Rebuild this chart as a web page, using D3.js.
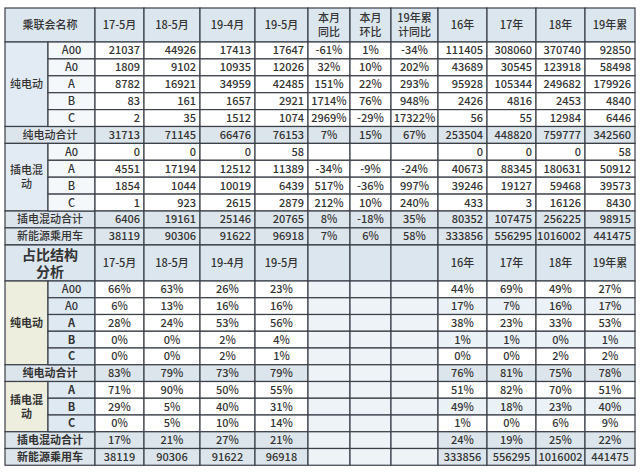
<!doctype html>
<html>
<head>
<meta charset="utf-8">
<style>
  body { margin: 0; background: #fff; }
  text { font-family: "Noto Sans CJK SC", "DejaVu Sans", sans-serif; font-size: 11px; fill: #333; }
</style>
<script src="https://cdnjs.cloudflare.com/ajax/libs/d3/7.8.5/d3.min.js"></script>
</head>
<body>
<script>
// column headers
var headTop = ["17-5月", "18-5月", "19-4月", "19-5月", "本月|同比", "本月|环比", "19年累|计同比", "16年", "17年", "18年", "19年累"];
var headBottom = ["17-5月", "18-5月", "19-4月", "19-5月", "", "", "", "16年", "17年", "18年", "19年累"];

// top section: [group, sub, values...]
var topGroups = ["纯电动", "纯电动", "纯电动", "纯电动", "纯电动", "纯电动合计", "插电混动", "插电混动", "插电混动", "插电混动", "插电混动合计", "新能源乘用车"];
var topSubs = ["A00", "A0", "A", "B", "C", "", "A0", "A", "B", "C", "", ""];
var topValues = [
  ["21037", "44926", "17413", "17647", "-61%", "1%", "-34%", "111405", "308060", "370740", "92850"],
  ["1809", "9102", "10935", "12026", "32%", "10%", "202%", "43689", "30545", "123918", "58498"],
  ["8782", "16921", "34959", "42485", "151%", "22%", "293%", "95928", "105344", "249682", "179926"],
  ["83", "161", "1657", "2921", "1714%", "76%", "948%", "2426", "4816", "2453", "4840"],
  ["2", "35", "1512", "1074", "2969%", "-29%", "17322%", "56", "55", "12984", "6446"],
  ["31713", "71145", "66476", "76153", "7%", "15%", "67%", "253504", "448820", "759777", "342560"],
  ["0", "0", "0", "58", "", "", "", "0", "0", "0", "58"],
  ["4551", "17194", "12512", "11389", "-34%", "-9%", "-24%", "40673", "88345", "180631", "50912"],
  ["1854", "1044", "10019", "6439", "517%", "-36%", "997%", "39246", "19127", "59468", "39573"],
  ["1", "923", "2615", "2879", "212%", "10%", "240%", "433", "3", "16126", "8430"],
  ["6406", "19161", "25146", "20765", "8%", "-18%", "35%", "80352", "107475", "256225", "98915"],
  ["38119", "90306", "91622", "96918", "7%", "6%", "58%", "333856", "556295", "1016002", "441475"]
];

// bottom section: share structure
var botGroups = ["纯电动", "纯电动", "纯电动", "纯电动", "纯电动", "纯电动合计", "插电混动", "插电混动", "插电混动", "插电混动合计", "新能源乘用车"];
var botSubs = ["A00", "A0", "A", "B", "C", "", "A", "B", "C", "", ""];
var botValues = [
  ["66%", "63%", "26%", "23%", "", "", "", "44%", "69%", "49%", "27%"],
  ["6%", "13%", "16%", "16%", "", "", "", "17%", "7%", "16%", "17%"],
  ["28%", "24%", "53%", "56%", "", "", "", "38%", "23%", "33%", "53%"],
  ["0%", "0%", "2%", "4%", "", "", "", "1%", "1%", "0%", "1%"],
  ["0%", "0%", "2%", "1%", "", "", "", "0%", "0%", "2%", "2%"],
  ["83%", "79%", "73%", "79%", "", "", "", "76%", "81%", "75%", "78%"],
  ["71%", "90%", "50%", "55%", "", "", "", "51%", "82%", "70%", "51%"],
  ["29%", "5%", "40%", "31%", "", "", "", "49%", "18%", "23%", "40%"],
  ["0%", "5%", "10%", "14%", "", "", "", "1%", "0%", "6%", "9%"],
  ["17%", "21%", "27%", "21%", "", "", "", "24%", "19%", "25%", "22%"],
  ["38119", "90306", "91622", "96918", "", "", "", "333856", "556295", "1016002", "441475"]
];

var colW = [43, 47, 49, 56, 55, 53, 42, 41, 47, 49, 49, 49, 50];
var colX = [5].concat(Array.from(d3.cumsum(colW), function(d) { return d + 5; }));
var red = "#e0566a", line = "#3a3f48", headBg = "#dce6ef", totBg = "#dde5ec";

var svg = d3.select("body").append("svg").attr("width", 640).attr("height", 473);

function section(y0, headH, rowH, head, groups, subs, values, bottom) {
  var n = values.length;
  var y = d3.scaleLinear().domain([0, n]).range([y0 + headH, y0 + headH + rowH * n]);
  var g = svg.append("g");

  function cell(x0, x1, ya, yb, fill, txt, color, size, align) {
    g.append("rect").attr("x", x0).attr("y", ya).attr("width", x1 - x0).attr("height", yb - ya)
      .attr("fill", fill).attr("stroke", line).attr("stroke-width", 1.2);
    var lines = txt.split("|");
    lines.forEach(function(t, i) {
      g.append("text")
        .attr("x", align === "end" ? x1 - 4 : (x0 + x1) / 2)
        .attr("y", (ya + yb) / 2 + (i - (lines.length - 1) / 2) * (size + 3) + size * 0.36)
        .attr("text-anchor", align || "middle")
        .style("font-size", size + "px").style("font-weight", bottom && !txt.match(/\d/) ? 600 : 500)
        .attr("fill", color).text(t);
    });
  }

  // header
  if (bottom) cell(colX[0], colX[2], y0, y0 + headH, headBg, "占比结构|分析", red, 14);
  else cell(colX[0], colX[2], y0, y0 + headH, headBg, "乘联会名称", "#333", 11);
  head.forEach(function(h, i) {
    var c = (bottom && i === 3) ? red : "#333";
    cell(colX[i + 2], colX[i + 3], y0, y0 + headH, headBg, h, c, 11);
  });

  // group spans
  var spans = [];
  groups.forEach(function(gname, i) {
    var last = spans[spans.length - 1];
    if (last && last.name === gname && subs[i]) last.end = i + 1;
    else spans.push({ name: gname, start: i, end: i + 1, total: !subs[i] });
  });
  spans.forEach(function(s) {
    if (s.total) {
      cell(colX[0], colX[2], y(s.start), y(s.end), totBg, s.name, "#333", 11);
    } else {
      var label = s.name === "插电混动" ? "插电混|动" : s.name;
      cell(colX[0], colX[1], y(s.start), y(s.end), bottom ? "#eeeedf" : "#e2ebf3", label, "#333", 11);
    }
  });

  values.forEach(function(row, r) {
    var tot = !subs[r];
    if (!tot) cell(colX[1], colX[2], y(r), y(r + 1), bottom ? "#dfe9f2" : "#f4f8fb", subs[r], "#333", 11);
    row.forEach(function(v, i) {
      var fill = tot ? totBg : "#fff";
      if (bottom && !tot && i >= 7) fill = (r % 2) ? "#eaf1f7" : "#fff";
      if (bottom && i >= 4 && i <= 6) fill = "#eef3f8";
      var color = (i === 3 || i === 10) ? red : "#333";
      var align = bottom ? "middle" : (i <= 3 || i >= 7 ? "end" : "middle");
      cell(colX[i + 2], colX[i + 3], y(r), y(r + 1), fill, v, color, 11, align);
    });
  });
}

section(8, 34, 16.9, headTop, topGroups, topSubs, topValues, false);
section(245, 36, 16.75, headBottom, botGroups, botSubs, botValues, true);
</script>
</body>
</html>
